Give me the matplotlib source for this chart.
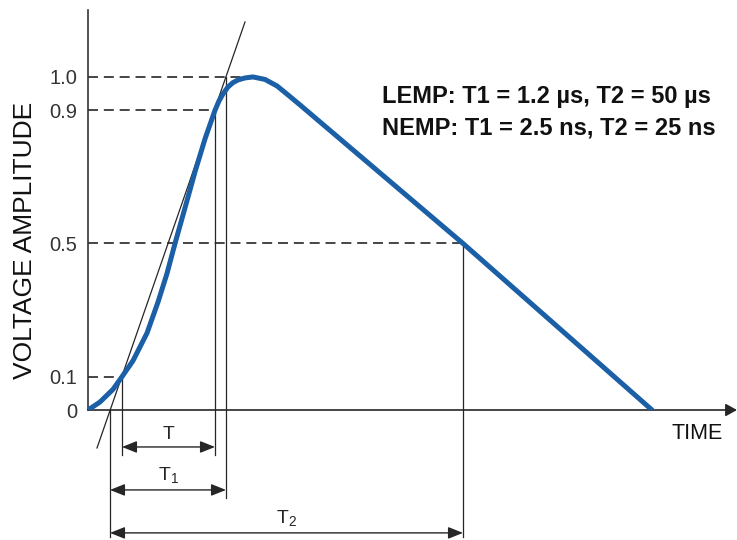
import matplotlib
matplotlib.use("Agg")
import matplotlib.pyplot as plt

plt.rcParams['font.family'] = ['Liberation Sans', 'DejaVu Sans']
plt.rcParams['mathtext.fontset'] = 'custom'
plt.rcParams['mathtext.rm'] = 'Liberation Sans'

# ---- data (time in arbitrary units, amplitude normalised) ----
pulse_time = [0, 12, 25, 34, 45, 59, 70, 79, 87, 97, 107, 117, 127, 131,
              135, 140, 145, 150, 157, 165, 177, 189, 200, 212, 375, 564]
pulse_amp = [0.0, 0.024, 0.062, 0.100, 0.148, 0.231, 0.324, 0.410, 0.500,
             0.607, 0.715, 0.814, 0.900, 0.928, 0.949, 0.970, 0.983, 0.991,
             0.997, 1.0, 0.9925, 0.973, 0.946, 0.916, 0.500, 0.0]

tangent_time = [9, 157]
tangent_amp = [-0.114, 1.165]

tick_vals = [0, 0.1, 0.5, 0.9, 1.0]
tick_labels = ['0', '0.1', '0.5', '0.9', '1.0']

# key instants
t_01 = 34      # 10 % point
t_09 = 127     # 90 % point
t_zero = 22    # virtual origin (tangent crosses 0)
t_100 = 138    # tangent reaches 1.0
t_peak = 165
t_50 = 375     # half value on tail

lemp_text = "LEMP: T1 = 1.2 \u00b5s, T2 = 50 \u00b5s"
nemp_text = "NEMP: T1 = 2.5 ns, T2 = 25 ns"

# ---- figure ----
W, H = 737, 540
fig = plt.figure(figsize=(W / 100, H / 100), dpi=100)
ax = fig.add_axes([88 / W, 130 / H, 649 / W, 400 / H])
ax.set_xlim(0, 649)
ax.set_ylim(0, 1.201)

for s in ['top', 'right', 'bottom']:
    ax.spines[s].set_visible(False)
ax.spines['left'].set_color('#333333')
ax.spines['left'].set_linewidth(1.2)
ax.set_xticks([])
ax.set_yticks(tick_vals, labels=tick_labels)
ax.tick_params(axis='y', length=0, pad=7.5, labelsize=14.5, labelcolor='#333333')

dark = '#262626'

# x axis with arrow
ax.annotate('', xy=(649, 0), xytext=(0, 0), annotation_clip=False,
            arrowprops=dict(arrowstyle='-|>,head_length=0.45,head_width=0.25',
                            mutation_scale=15, color=dark, lw=1.2,
                            shrinkA=0, shrinkB=0))

# dashed reference levels
dash = dict(color=dark, lw=1.2, dashes=(6, 3.5), clip_on=False)
ax.plot([0, t_peak], [1.0, 1.0], **dash)
ax.plot([0, t_09], [0.9, 0.9], **dash)
ax.plot([0, t_50], [0.5, 0.5], **dash)
ax.plot([0, t_01], [0.1, 0.1], **dash)

# vertical construction lines
thin = dict(color=dark, lw=0.9, clip_on=False)
ax.plot([t_01, t_01], [0.1, -0.135], **thin)
ax.plot([t_09, t_09], [0.9, -0.135], **thin)
ax.plot([t_zero, t_zero], [0.0, -0.38], **thin)
ax.plot([t_100, t_100], [1.0, -0.264], **thin)
ax.plot([t_50, t_50], [0.5, -0.38], **thin)

# tangent line
ax.plot(tangent_time, tangent_amp, **thin)

# pulse
ax.plot(pulse_time, pulse_amp, color='#1b5fa6', lw=3.6,
        solid_capstyle='round', solid_joinstyle='round', zorder=5)

# dimension arrows
def dim(t0, t1, y):
    ax.annotate('', xy=(t1, y), xytext=(t0, y), annotation_clip=False,
                arrowprops=dict(arrowstyle='<|-|>,head_length=0.5,head_width=0.2',
                                mutation_scale=18, color=dark, lw=1.0,
                                shrinkA=0, shrinkB=0))

dim(t_01, t_09, -0.111)
dim(t_zero, t_100, -0.240)
dim(t_zero, t_50, -0.369)

ax.text((t_01 + t_09) / 2, -0.075, 'T', ha='center', va='center',
        fontsize=14, color=dark)
ax.text((t_zero + t_100) / 2, -0.195, r'$\mathregular{T_1}$', ha='center',
        va='center', fontsize=14, color=dark)
ax.text((t_zero + t_50) / 2, -0.324, r'$\mathregular{T_2}$', ha='center',
        va='center', fontsize=14, color=dark)

ax.text(609, -0.072, 'TIME', ha='center', va='center', fontsize=15.5,
        color='#111111')

ax.text(294, 0.94, lemp_text, ha='left', va='center', fontsize=17,
        fontweight='bold', color='#111111')
ax.text(294, 0.847, nemp_text, ha='left', va='center', fontsize=17,
        fontweight='bold', color='#111111')

fig.text(25 / W, 1 - 240 / H, 'VOLTAGE AMPLITUDE', rotation=90,
         ha='center', va='center', fontsize=19, color='#111111')

fig.savefig('out.png', dpi=100, facecolor='white')
